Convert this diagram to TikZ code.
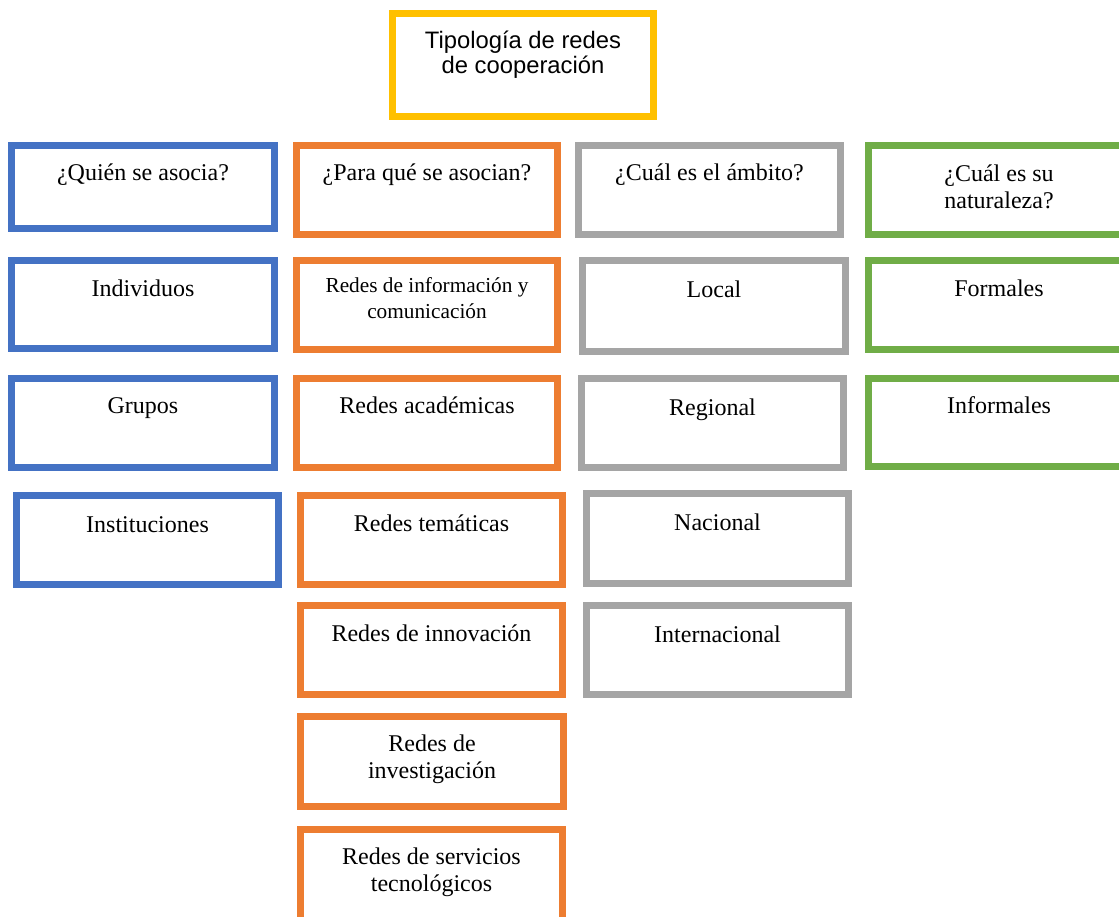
\documentclass[tikz,border=0pt]{standalone}
\usepackage{fontspec}
\setmainfont{Liberation Serif}
\newfontfamily\arialf{Liberation Sans}
\definecolor{cblue}{HTML}{4472C4}
\definecolor{corange}{HTML}{ED7D31}
\definecolor{cgray}{HTML}{A5A5A5}
\definecolor{cgreen}{HTML}{70AD47}
\definecolor{cgold}{HTML}{FFC000}
\newcommand\bx[6]{\node[frame,draw=#2,minimum width={#5-#3-7},minimum height={#6-#4-7}] (#1) at ({(#3+#5)/2},{-(#4+#6)/2}) {};}
\begin{document}
\begin{tikzpicture}[x=1pt,y=1pt,
  frame/.style={rectangle,line width=7pt,inner sep=0pt,outer sep=0pt},
  txt/.style={anchor=base,inner sep=0pt,align=center,font=\fontsize{24}{26.5}\selectfont},
  stxt/.style={anchor=base,inner sep=0pt,align=center,font=\fontsize{21.3}{26}\selectfont},
  ttxt/.style={anchor=base,inner sep=0pt,align=center,font=\arialf\fontsize{23.8}{25}\selectfont}]
\useasboundingbox (0,0) rectangle (1119,-916);
% title (base anchor of a two-line node = baseline of its last line)
\bx{title}{cgold}{389}{10}{657}{120}
\node[ttxt] (titlet) at (523,-73) {Tipología de redes\\de cooperación};
% blue column
\bx{q1}{cblue}{8}{142}{278}{232}
\node[txt] (q1t) at (143,-180) {¿Quién se asocia?};
\bx{b2}{cblue}{8}{257}{278}{352}
\node[txt] (b2t) at (143,-296) {Individuos};
\bx{b3}{cblue}{8}{375}{278}{471}
\node[txt] (b3t) at (143,-413) {Grupos};
\bx{b4}{cblue}{13}{492}{282}{588}
\node[txt] (b4t) at (147.5,-532) {Instituciones};
% orange column
\bx{q2}{corange}{293}{142}{561}{238}
\node[txt] (q2t) at (427,-180) {¿Para qué se asocian?};
\bx{o2}{corange}{293}{257}{561}{353}
\node[stxt] (o2t) at (427,-318) {Redes de información y\\comunicación};
\bx{o3}{corange}{293}{375}{561}{471}
\node[txt] (o3t) at (427,-413) {Redes académicas};
\bx{o4}{corange}{297}{492}{566}{588}
\node[txt] (o4t) at (431.5,-531) {Redes temáticas};
\bx{o5}{corange}{297}{602}{566}{698}
\node[txt] (o5t) at (431.5,-641) {Redes de innovación};
\bx{o6}{corange}{297}{713}{567}{810}
\node[txt] (o6t) at (432,-778) {Redes de\\investigación};
\bx{o7}{corange}{297}{826}{566}{924}
\node[txt] (o7t) at (431.5,-891) {Redes de servicios\\tecnológicos};
% gray column
\bx{q3}{cgray}{575}{142}{844}{238}
\node[txt] (q3t) at (709.5,-180) {¿Cuál es el ámbito?};
\bx{g2}{cgray}{579}{257}{849}{355}
\node[txt] (g2t) at (714,-297) {Local};
\bx{g3}{cgray}{578}{375}{847}{471}
\node[txt] (g3t) at (712.5,-415) {Regional};
\bx{g4}{cgray}{583}{490}{852}{587}
\node[txt] (g4t) at (717.5,-530) {Nacional};
\bx{g5}{cgray}{583}{602}{852}{698}
\node[txt] (g5t) at (717.5,-642) {Internacional};
% green column
\bx{q4}{cgreen}{865}{142}{1135}{238}
\node[txt] (q4t) at (999,-208) {¿Cuál es su\\naturaleza?};
\bx{n2}{cgreen}{865}{257}{1135}{353}
\node[txt] (n2t) at (999,-296) {Formales};
\bx{n3}{cgreen}{865}{375}{1135}{470}
\node[txt] (n3t) at (999,-413) {Informales};
\end{tikzpicture}
\end{document}
